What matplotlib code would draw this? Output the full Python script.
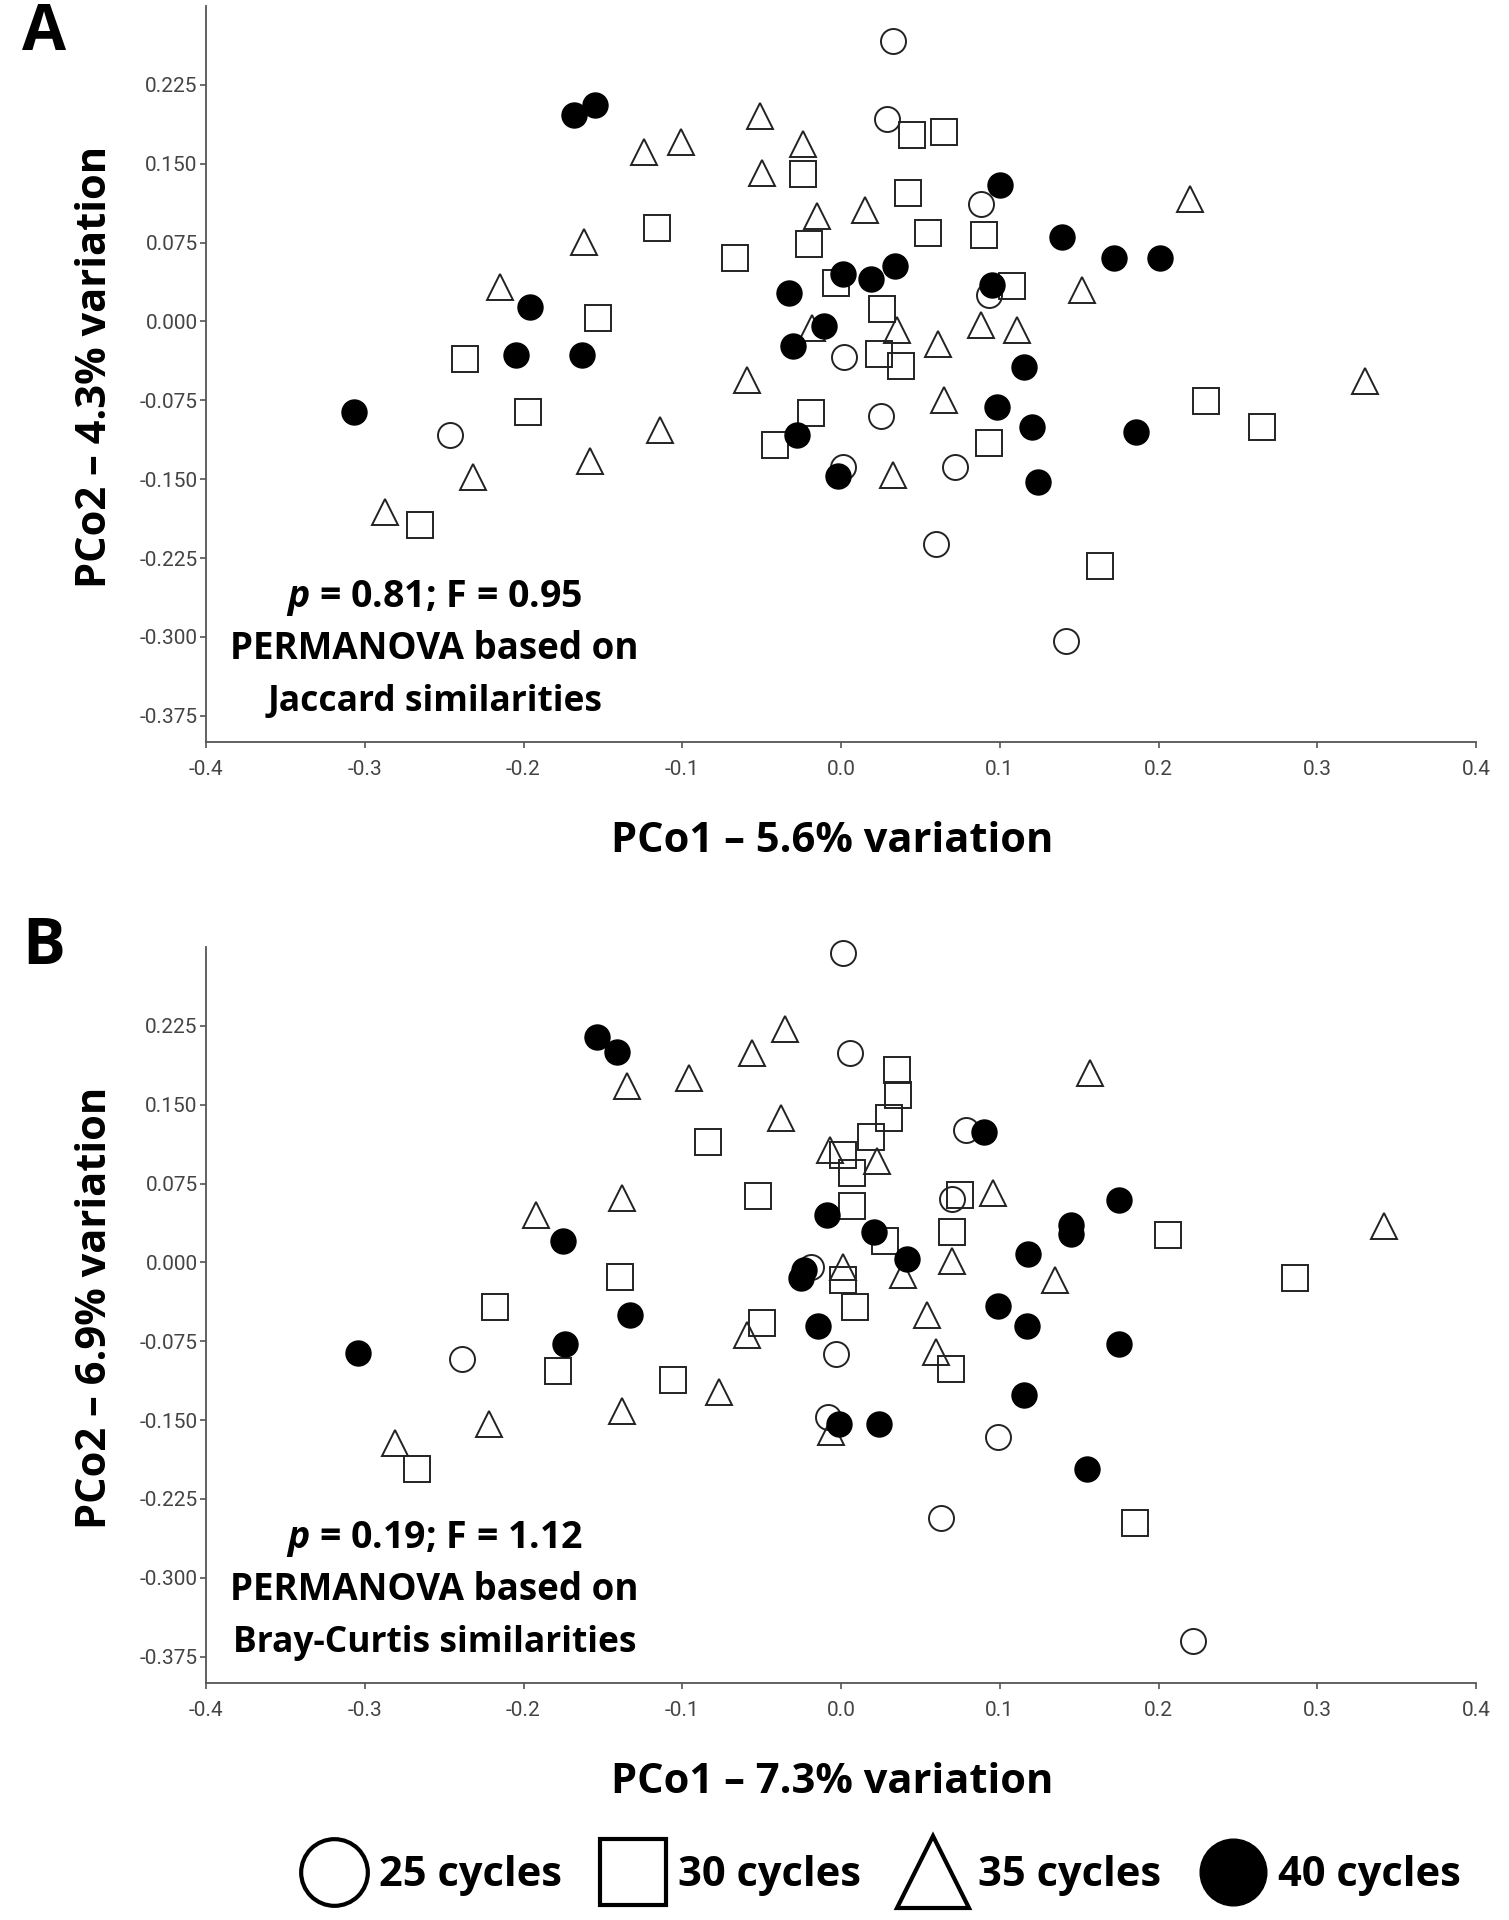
import matplotlib
matplotlib.use('Agg')
import matplotlib.pyplot as plt
from matplotlib import font_manager
from matplotlib.lines import Line2D

installed = {f.name for f in font_manager.fontManager.ttflist}
tick_font = 'Liberation Sans Narrow' if 'Liberation Sans Narrow' in installed else 'Roboto'
bold_font = 'Open Sans'

plt.rcParams['axes.unicode_minus'] = False
plt.rcParams['mathtext.fontset'] = 'custom'
plt.rcParams['mathtext.rm'] = bold_font + ':bold'
plt.rcParams['mathtext.bfit'] = bold_font + ':bold:italic'

# ---- Panel A (Jaccard) ----
a25_x = [0.033, 0.029, 0.088, 0.093, 0.002, 0.025, 0.001, 0.072, 0.060, 0.142, -0.246]
a25_y = [0.267, 0.193, 0.112, 0.025, -0.034, -0.090, -0.138, -0.138, -0.212, -0.304, -0.108]

a30_x = [-0.116, -0.067, -0.153, -0.237, -0.197, -0.265, 0.045, 0.065, -0.024, 0.042, 0.055, 0.090,
         -0.020, -0.003, 0.108, 0.026, 0.024, 0.038, 0.230, -0.019, 0.265, -0.0415, 0.093, 0.163]
a30_y = [0.089, 0.060, 0.003, -0.036, -0.086, -0.194, 0.177, 0.180, 0.140, 0.122, 0.084, 0.082,
         0.074, 0.037, 0.034, 0.012, -0.031, -0.042, -0.076, -0.087, -0.100, -0.118, -0.116, -0.233]

a35_x = [-0.124, -0.101, -0.051, -0.050, -0.162, -0.215, -0.059, -0.114, -0.158, -0.232, -0.287, -0.024,
         -0.015, 0.015, 0.220, 0.152, -0.018, 0.035, 0.088, 0.111, 0.061, 0.330, 0.065, 0.033]
a35_y = [0.161, 0.171, 0.195, 0.141, 0.076, 0.033, -0.056, -0.1035, -0.133, -0.148, -0.181, 0.169,
         0.100, 0.106, 0.116, 0.030, -0.006, -0.008, -0.003, -0.008, -0.021, -0.057, -0.075, -0.146]

a40_x = [-0.168, -0.155, -0.196, -0.205, -0.163, -0.307, 0.100, 0.139, 0.172, 0.201, 0.001, 0.019,
         0.034, -0.033, 0.095, -0.011, -0.030, 0.115, 0.098, 0.120, 0.186, -0.028, -0.002, 0.124]
a40_y = [0.196, 0.206, 0.014, -0.032, -0.032, -0.086, 0.130, 0.080, 0.060, 0.060, 0.045, 0.040,
         0.053, 0.0275, 0.035, -0.004, -0.023, -0.043, -0.081, -0.100, -0.105, -0.108, -0.147, -0.153]

# ---- Panel B (Bray-Curtis) ----
b25_x = [0.001, 0.0055, 0.079, 0.070, -0.019, -0.2385, -0.003, -0.008, 0.099, 0.063, 0.2215]
b25_y = [0.294, 0.199, 0.126, 0.060, -0.004, -0.092, -0.087, -0.147, -0.166, -0.243, -0.360]

b30_x = [-0.084, -0.052, -0.139, -0.218, -0.178, -0.106, -0.267, 0.035, 0.036, 0.030, 0.019, 0.0015,
         0.007, 0.075, 0.007, 0.028, 0.070, 0.206, 0.0015, 0.286, 0.0086, -0.050, 0.069, 0.185]
b30_y = [0.115, 0.063, -0.014, -0.042, -0.103, -0.112, -0.196, 0.183, 0.159, 0.137, 0.119, 0.102,
         0.085, 0.064, 0.054, 0.020, 0.029, 0.026, -0.017, -0.015, -0.042, -0.058, -0.101, -0.248]

b35_x = [-0.135, -0.096, -0.056, -0.035, -0.138, -0.192, -0.059, -0.077, -0.138, -0.222, -0.281, 0.157,
         -0.038, -0.007, 0.0225, 0.096, 0.342, 0.070, 0.001, 0.039, 0.135, 0.054, 0.060, -0.006]
b35_y = [0.168, 0.175, 0.199, 0.222, 0.061, 0.045, -0.069, -0.123, -0.141, -0.154, -0.172, 0.180,
         0.137, 0.107, 0.096, 0.066, 0.035, 0.001, -0.004, -0.012, -0.017, -0.050, -0.085, -0.161]

b40_x = [-0.154, -0.141, -0.175, -0.133, -0.3045, -0.174, 0.090, -0.009, 0.175, 0.145, 0.145, 0.021,
         0.0415, 0.118, -0.023, -0.025, 0.099, 0.117, -0.0145, 0.175, 0.115, -0.001, 0.024, 0.155]
b40_y = [0.214, 0.200, 0.020, -0.050, -0.086, -0.078, 0.124, 0.045, 0.059, 0.036, 0.027, 0.029,
         0.003, 0.008, -0.007, -0.015, -0.041, -0.060, -0.060, -0.078, -0.126, -0.154, -0.154, -0.196]

cycle_labels = ['25 cycles', '30 cycles', '35 cycles', '40 cycles']
x_ticks = [-0.4, -0.3, -0.2, -0.1, 0.0, 0.1, 0.2, 0.3, 0.4]
y_ticks = [0.225, 0.150, 0.075, 0.000, -0.075, -0.150, -0.225, -0.300, -0.375]

edge = '#222222'
styles = [
    dict(marker='o', markersize=18, mfc='none', mec=edge, mew=1.4),
    dict(marker='s', markersize=18.5, mfc='none', mec=edge, mew=1.4),
    dict(marker='^', markersize=19, mfc='none', mec=edge, mew=1.4),
    dict(marker='o', markersize=18, mfc='black', mec='black', mew=1.0),
]


def draw_panel(ax, groups, xlab, ylab, stat_line, measure_line):
    for (gx, gy), st in zip(groups, styles):
        ax.plot(gx, gy, linestyle='none', clip_on=False, **st)
    ax.set_xlim(-0.4, 0.4)
    ax.set_ylim(-0.4, 0.3)
    ax.set_xticks(x_ticks)
    ax.set_xticklabels(['%.1f' % v for v in x_ticks])
    ax.set_yticks(y_ticks)
    ax.set_yticklabels(['%.3f' % v for v in y_ticks])
    for s in ['top', 'right']:
        ax.spines[s].set_visible(False)
    for s in ['left', 'bottom']:
        ax.spines[s].set_color('#555555')
        ax.spines[s].set_linewidth(1.3)
    ax.tick_params(axis='both', color='#555555', width=1.2, length=4,
                   labelcolor='#444444', labelsize=15)
    ax.tick_params(axis='x', pad=9)
    ax.tick_params(axis='y', pad=2)
    for lab in ax.get_xticklabels() + ax.get_yticklabels():
        lab.set_family(tick_font)
    ax.set_xlabel(xlab, fontsize=30, fontweight='bold', family=bold_font, va='center')
    ax.xaxis.set_label_coords(0.493, -0.135)
    ax.set_ylabel(ylab, fontsize=30, fontweight='bold', family=bold_font, va='center')
    ax.yaxis.set_label_coords(-0.087, 0.51)
    tx = -0.4 + 0.18 * 0.8
    ax.text(tx, -0.263, stat_line, ha='center', va='center',
            fontsize=27, fontweight='bold', family=bold_font)
    ax.text(tx, -0.312, 'PERMANOVA based on', ha='center', va='center',
            fontsize=26.5, fontweight='bold', family=bold_font)
    ax.text(tx, -0.362, measure_line, ha='center', va='center',
            fontsize=25.5, fontweight='bold', family=bold_font)


fig = plt.figure(figsize=(15.09, 19.2), dpi=100)
ax_a = fig.add_axes([206 / 1509, 1 - 742 / 1920, 1270 / 1509, 736 / 1920])
ax_b = fig.add_axes([206 / 1509, 1 - 1683 / 1920, 1270 / 1509, 736 / 1920])

draw_panel(ax_a, [(a25_x, a25_y), (a30_x, a30_y), (a35_x, a35_y), (a40_x, a40_y)],
           'PCo1 \u2013 5.6% variation', 'PCo2 \u2013 4.3% variation',
           r'$\mathbfit{p}$ = 0.81; F = 0.95', 'Jaccard similarities')
draw_panel(ax_b, [(b25_x, b25_y), (b30_x, b30_y), (b35_x, b35_y), (b40_x, b40_y)],
           'PCo1 \u2013 7.3% variation', 'PCo2 \u2013 6.9% variation',
           r'$\mathbfit{p}$ = 0.19; F = 1.12', 'Bray-Curtis similarities')

fig.text(44 / 1509, 1 - 50 / 1920, 'A', fontsize=46, fontweight='bold', family=bold_font,
         ha='center', va='baseline')
fig.text(44 / 1509, 1 - 964 / 1920, 'B', fontsize=46, fontweight='bold', family=bold_font,
         ha='center', va='baseline')

leg_sizes = [48, 48, 52, 48]
handles = []
for st, ms in zip(styles, leg_sizes):
    h = dict(st)
    h['markersize'] = ms
    h['mew'] = 3.0 if h['mfc'] == 'none' else 1.0
    h['mec'] = 'black'
    handles.append(Line2D([], [], linestyle='none', **h))
fig.legend(handles, cycle_labels, loc='center', bbox_to_anchor=(880 / 1509, 1 - 1876 / 1920),
           ncol=4, frameon=False, handlelength=1.65, handletextpad=0.25, columnspacing=0.9,
           prop={'family': bold_font, 'weight': 'bold', 'size': 30})

fig.savefig('out.png', dpi=100, facecolor='white')
